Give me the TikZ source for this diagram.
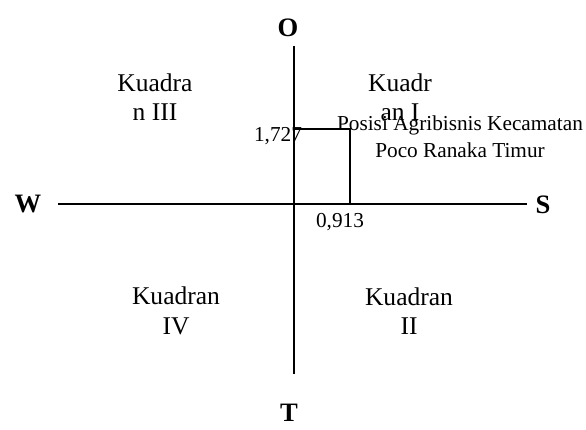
\documentclass[tikz,border=0pt]{standalone}
\usepackage{fontspec}
\setmainfont{Liberation Serif}
\usetikzlibrary{positioning}
\tikzset{
quadlabel/.style={align=center, inner sep=1pt, font=\fontsize{12}{13.8}\selectfont},
dirlabel/.style={inner sep=1pt, font=\fontsize{12.5}{14}\selectfont\bfseries},
valuelabel/.style={inner sep=1pt, font=\fontsize{10}{12}\selectfont},
posnote/.style={align=center, inner sep=1pt, font=\fontsize{10}{12.6}\selectfont},
axisline/.style={line width=0.95pt, draw=black},
posline/.style={line width=0.95pt, draw=black}
}
\begin{document}
\begin{tikzpicture}[x=0.47pt, y=-0.47pt]
  \useasboundingbox (0,0) rectangle (586,429);
  % axis ends
  \coordinate (top) at (294,46);
  \coordinate (bottom) at (294,374);
  \coordinate (left) at (58,204);
  \coordinate (right) at (527,204);
  % position of the point
  \coordinate (py) at (294,129);
  \coordinate (pxy) at (350,129);
  \coordinate (px) at (350,204);
  \node[dirlabel] (north) at (288,28) {O};
  \node[dirlabel] (west) at (28,204) {W};
  \node[dirlabel] (east) at (543,205) {S};
  \node[dirlabel] (south) at (289,413) {T};
  \node[quadlabel] (q3) at (155,97) {Kuadra\\n III};
  \node[quadlabel] (q1) at (400,97) {Kuadr\\an I};
  \node[quadlabel] (q4) at (176,311) {Kuadran\\IV};
  \node[quadlabel] (q2) at (409,311) {Kuadran\\II};
  \draw[axisline] (top) -- (bottom);
  \draw[axisline] (left) -- (right);
  \draw[posline] (py) -- (pxy) -- (px);
  \node[valuelabel] (yval) at (278,136) {1,727};
  \node[valuelabel] (xval) at (340,222) {0,913};
  \node[posnote] (pos) at (460,137) {Posisi Agribisnis Kecamatan\\Poco Ranaka Timur};
\end{tikzpicture}
\end{document}
